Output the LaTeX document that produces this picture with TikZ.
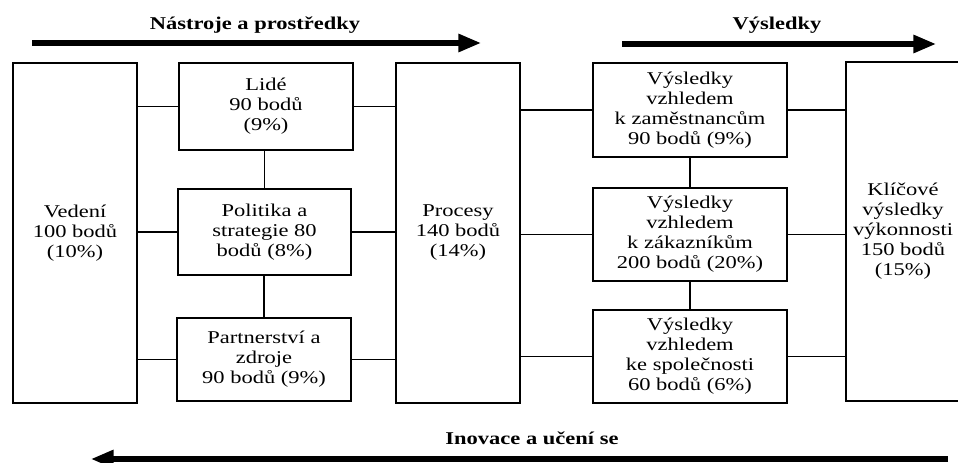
\documentclass[tikz,border=0pt]{standalone}
\usepackage{fontspec}
\setmainfont{Liberation Serif}[FakeStretch=1.25]
\usetikzlibrary{arrows.meta}
\begin{document}
\begin{tikzpicture}[x=0.75pt,y=-0.75pt,
  box/.style={draw, line width=0.9pt, inner sep=0pt, outer sep=0pt,
    align=center, font=\fontsize{13.5}{15}\selectfont},
  link/.style={line width=0.9pt},
  flow/.style={line width=3.8pt, -{Triangle[length=17pt,width=13pt]}},
  heading/.style={font=\fontsize{13.5}{15}\selectfont\bfseries}]
\useasboundingbox (0,0) rectangle (958,463);

% enablers
\node[box, minimum width=93pt, minimum height=255pt] (ved) at (75,233)
  {Vedení\\100 bodů\\(10\%)};
\node[box, minimum width=130.5pt, minimum height=65.25pt] (lid) at (266,106.5)
  {Lidé\\90 bodů\\(9\%)};
\node[box, minimum width=129.75pt, minimum height=64.5pt] (pol) at (264.5,232)
  {Politika a\\strategie 80\\bodů (8\%)};
\node[box, minimum width=130.5pt, minimum height=62.25pt] (par) at (264,359.5)
  {Partnerství a\\zdroje\\90 bodů (9\%)};
\node[box, minimum width=93pt, minimum height=255pt] (pro) at (458,233)
  {Procesy\\140 bodů\\(14\%)};

% results
\node[box, minimum width=145.5pt, minimum height=70.5pt] (r1) at (690,110)
  {Výsledky\\vzhledem\\k zaměstnancům\\90 bodů (9\%)};
\node[box, minimum width=145.5pt, minimum height=69.75pt] (r2) at (690,234.5)
  {Výsledky\\vzhledem\\k zákazníkům\\200 bodů (20\%)};
\node[box, minimum width=145.5pt, minimum height=69.75pt] (r3) at (690,356.5)
  {Výsledky\\vzhledem\\ke společnosti\\60 bodů (6\%)};
\node[box, minimum width=85.5pt, minimum height=254.25pt] (kli) at (903,231.5)
  {Klíčové\\výsledky\\výkonnosti\\150 bodů\\(15\%)};

% connections between the boxes
\draw[link] (lid.west -| ved.east) -- (lid.west);
\draw[link] (pol.west -| ved.east) -- (pol.west);
\draw[link] (par.west -| ved.east) -- (par.west);
\draw[link] (lid.east) -- (lid.east -| pro.west);
\draw[link] (pol.east) -- (pol.east -| pro.west);
\draw[link] (par.east) -- (par.east -| pro.west);
\draw[link] (pol.north) -- (pol.north |- lid.south);
\draw[link] (par.north) -- (par.north |- pol.south);

\draw[link] (r1.west -| pro.east) -- (r1.west);
\draw[link] (r2.west -| pro.east) -- (r2.west);
\draw[link] (r3.west -| pro.east) -- (r3.west);
\draw[link] (r1.east) -- (r1.east -| kli.west);
\draw[link] (r2.east) -- (r2.east -| kli.west);
\draw[link] (r3.east) -- (r3.east -| kli.west);
\draw[link] (r2.north) -- (r2.north |- r1.south);
\draw[link] (r3.north) -- (r3.north |- r2.south);

% flow arrows with their headings
\node[heading] (h1) at (255,25) {Nástroje a prostředky};
\node[heading] (h2) at (777,25) {Výsledky};
\node[heading] (h3) at (532,438) {Inovace a učení se};
\coordinate (a1s) at (32,43);  \coordinate (a1e) at (481,43);
\coordinate (a2s) at (622,44); \coordinate (a2e) at (936,44);
\coordinate (a3s) at (948,459); \coordinate (a3e) at (91,459);
\draw[flow] (a1s) -- (a1e);
\draw[flow] (a2s) -- (a2e);
\draw[flow] (a3s) -- (a3e);
\end{tikzpicture}
\end{document}
